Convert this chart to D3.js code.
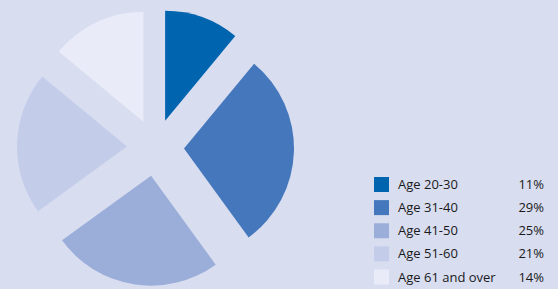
<!DOCTYPE html>
<html>
<head>
<meta charset="utf-8">
<script src="https://cdn.jsdelivr.net/npm/d3@7"></script>
<style>
    html, body { margin: 0; padding: 0; background: #d8ddf0; }
    svg { display: block; }
    text { font-family: "Open Sans", "Noto Sans", sans-serif; font-size: 13px; fill: #1a1a1a; }
</style>
</head>
<body>
<svg id="chart"></svg>
<script>
// age groups and their shares (%)
const categories = ['Age 20-30', 'Age 31-40', 'Age 41-50', 'Age 51-60', 'Age 61 and over'];
const values = [11, 29, 25, 21, 14];
const colors = ['#0064af', '#4477bb', '#9aaed9', '#c3cdea', '#e9ecf8'];

function drawPie() {
    const width = 558;
    const height = 289;
    const svg = d3.select('#chart').attr('width', width).attr('height', height);

    svg.append('rect').attr('width', width).attr('height', height).attr('fill', '#d8ddf0');

    const center = [155.5, 147.5];
    const radius = 110;
    const explode = 28.5;

    const pie = d3.pie().sort(null).value(d => d.v);
    const arc = d3.arc().innerRadius(0).outerRadius(radius);

    const data = values.map((v, i) => ({ v, name: categories[i], c: colors[i] }));

    const g = svg.append('g').attr('transform', 'translate(' + center[0] + ',' + center[1] + ')');

    g.selectAll('path')
        .data(pie(data))
        .enter()
        .append('path')
        .attr('d', arc)
        .attr('fill', d => d.data.c)
        .attr('transform', function (d) {
            const mid = (d.startAngle + d.endAngle) / 2;
            return 'translate(' + (explode * Math.sin(mid)) + ',' + (-explode * Math.cos(mid)) + ')';
        });

    // legend
    const rowY = d3.scalePoint().domain(categories).range([184.5, 277]);
    const legend = svg.append('g');
    const rows = legend.selectAll('g')
        .data(data)
        .enter()
        .append('g')
        .attr('transform', d => 'translate(0,' + rowY(d.name) + ')');

    rows.append('rect')
        .attr('x', 374).attr('y', -7.5)
        .attr('width', 15).attr('height', 15)
        .attr('fill', d => d.c);

    rows.append('text')
        .attr('x', 398).attr('y', 4.5)
        .text(d => d.name);

    rows.append('text')
        .attr('x', 544).attr('y', 4.5)
        .attr('text-anchor', 'end')
        .text(d => d.v + '%');
}

drawPie();
</script>
</body>
</html>
